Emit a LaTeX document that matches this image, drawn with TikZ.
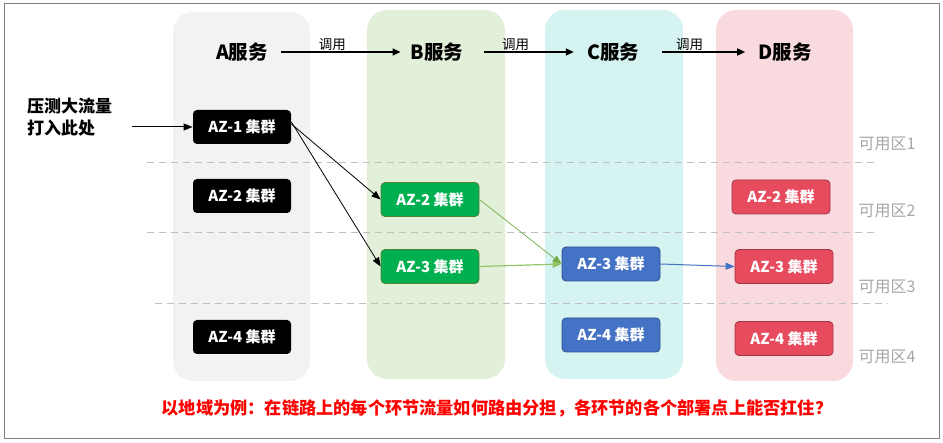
\documentclass[tikz,border=0pt]{standalone}
\usepackage{fontspec}
\setmainfont{Noto Sans CJK SC}
\usetikzlibrary{arrows.meta}
\definecolor{colA}{HTML}{F2F2F2}
\definecolor{colB}{HTML}{E2F0D9}
\definecolor{colC}{HTML}{D5F3F0}
\definecolor{colD}{HTML}{F9DBDF}
\definecolor{nblack}{HTML}{000000}
\definecolor{ngreen}{HTML}{00B050}
\definecolor{ngreenb}{HTML}{548235}
\definecolor{nblue}{HTML}{4472C4}
\definecolor{nblueb}{HTML}{2F528F}
\definecolor{nred}{HTML}{E64B5E}
\definecolor{nredb}{HTML}{A23445}
\definecolor{zonegray}{HTML}{A6A6A6}
\definecolor{dashgray}{HTML}{BFBFBF}
\definecolor{lgreen}{HTML}{70AD47}
\definecolor{lgreen2}{HTML}{92C46A}
\begin{document}
\begin{tikzpicture}[x=1pt,y=-1pt,
  colbox/.style={rounded corners=20pt},
  clus/.style={rounded corners=4pt, minimum width=98pt, minimum height=34pt, inner sep=0pt,
    text=white, font=\bfseries\fontsize{15}{17}\selectfont, line width=0.8pt},
  cblack/.style={clus, fill=nblack},
  cgreen/.style={clus, fill=ngreen, draw=ngreenb},
  cblue/.style={clus, fill=nblue, draw=nblueb},
  cred/.style={clus, fill=nred, draw=nredb},
  svc/.style={font=\bfseries\fontsize{19.5}{21}\selectfont, inner sep=2pt},
  callarrow/.style={line width=1.6pt, -{Triangle[length=8pt,width=7pt]}},
  calllab/.style={font=\fontsize{13.5}{15}\selectfont, inner sep=1pt, above},
  zone/.style={font=\fontsize{16}{18}\selectfont, text=zonegray, anchor=west},
  zline/.style={dashgray, dash pattern=on 7pt off 5pt, line width=0.8pt},
  link/.style={line width=0.8pt, -{Triangle[length=9pt,width=7pt]}}
]
\useasboundingbox (0,0) rectangle (943,443);
\draw[gray, line width=1pt] (4,4) rectangle (939,439);

% columns
\fill[colA, colbox] (173,12) rectangle (310,381);
\fill[colB, colbox] (367,10) rectangle (505,379);
\fill[colC, colbox] (545,10) rectangle (683,379);
\fill[colD, colbox] (716,10) rectangle (853,381);

% dashed zone separators
\draw[zline] (147,162) -- (878,162);
\draw[zline] (147,232) -- (879,232);
\draw[zline] (155,303) -- (888,303);

% zone labels
\node[zone] (z1) at (855,144) {可用区1};
\node[zone] (z2) at (855,211) {可用区2};
\node[zone] (z3) at (855,287) {可用区3};
\node[zone] (z4) at (855,357) {可用区4};

% service titles
\node[svc] (tA) at (242,52) {A服务};
\node[svc] (tB) at (437,52) {B服务};
\node[svc] (tC) at (613,52) {C服务};
\node[svc] (tD) at (785,52) {D服务};

\draw[callarrow, shorten <=11pt, shorten >=8pt] (tA.east) -- node[calllab, pos=0.45] {调用} (tB.west);
\draw[callarrow, shorten <=19pt, shorten >=11pt] (tB.east) -- node[calllab, pos=0.42] {调用} (tC.west);
\draw[callarrow, shorten <=21pt, shorten >=11pt] (tC.east) -- node[calllab, pos=0.42] {调用} (tD.west);

% clusters
\node[cblack] (a1) at (242,127) {AZ-1 集群};
\node[cblack] (a2) at (242,196) {AZ-2 集群};
\node[cblack] (a4) at (242,337) {AZ-4 集群};

\node[cgreen] (b2) at (430,199.5) {AZ-2 集群};
\node[cgreen] (b3) at (430,266.5) {AZ-3 集群};

\node[cblue] (c3) at (611,264) {AZ-3 集群};
\node[cblue] (c4) at (611,335) {AZ-4 集群};

\node[cred] (d2) at (781,197) {AZ-2 集群};
\node[cred] (d3) at (784,266.5) {AZ-3 集群};
\node[cred] (d4) at (784,338.5) {AZ-4 集群};

% left text
\node[anchor=west, align=left, font=\bfseries\fontsize{17}{22}\selectfont, inner sep=0pt] (src) at (27,117) {压测大流量\\打入此处};
\draw[link, line width=1pt] ([xshift=20pt]src.east |- a1.west) -- (a1.west);

% links
\draw[link] ([yshift=3pt]a1.east) -- (b2.west);
\draw[link] ([yshift=5pt]a1.east) -- (b3.west);
\draw[link, lgreen, line width=0.7pt] (b2.east) -- (c3.west);
\draw[link, lgreen2, line width=1.2pt] (b3.east) -- (c3.west);
\draw[link, nblue, line width=1pt] (c3.east) -- (d3.west);

% bottom text
\node[font=\bfseries\fontsize{17.2}{19}\selectfont, text=red] (note) at (497,408) {以地域为例：在链路上的每个环节流量如何路由分担，各环节的各个部署点上能否扛住？};
\end{tikzpicture}
\end{document}
